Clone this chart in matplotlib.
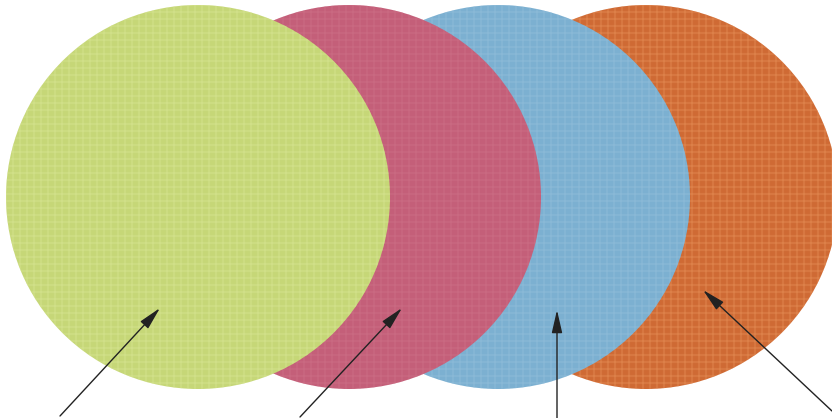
import matplotlib
matplotlib.use("Agg")
import matplotlib.pyplot as plt
from matplotlib.patches import Circle
import numpy as np

# circles, drawn back to front (pixel coords of the image)
names = ["orange", "blue", "red", "green"]
centers_x = [646, 498, 349, 198]
centers_y = [197, 197, 197, 197]
radii = [192, 192, 192, 192]
colors = ["#cf6a34", "#7cb0d1", "#c45f79", "#c6d777"]
weave = ["#e8915a", "#94c0dc", "#cf7389", "#d9e696"]

# arrows: tail -> tip
arrow_tail = [(60, 416), (300, 417), (557, 418), (832, 411)]
arrow_tip = [(160, 308), (402, 308), (557, 310), (703, 290)]

fig = plt.figure(figsize=(8.32, 4.18), dpi=100)
ax = fig.add_axes([0, 0, 1, 1])
ax.set_xlim(0, 832)
ax.set_ylim(418, 0)
ax.axis("off")

for i in range(len(names)):
    c = Circle((centers_x[i], centers_y[i]), radii[i], facecolor=colors[i],
               edgecolor="none", zorder=i * 2)
    ax.add_patch(c)
    # a light woven look, clipped to the circle
    xs = np.arange(centers_x[i] - radii[i], centers_x[i] + radii[i], 7)
    ys = np.arange(centers_y[i] - radii[i], centers_y[i] + radii[i], 7)
    vl = ax.vlines(xs, centers_y[i] - radii[i], centers_y[i] + radii[i],
                   colors=weave[i], linewidth=1.6, alpha=0.35, zorder=i * 2 + 1)
    hl = ax.hlines(ys, centers_x[i] - radii[i], centers_x[i] + radii[i],
                   colors=weave[i], linewidth=1.6, alpha=0.35, zorder=i * 2 + 1)
    vl.set_clip_path(c)
    hl.set_clip_path(c)

for tail, tip in zip(arrow_tail, arrow_tip):
    ax.annotate("", xy=tip, xytext=tail,
                arrowprops=dict(arrowstyle="-|>,head_length=1.4,head_width=0.32",
                                color="#222222", lw=1.0, shrinkA=0, shrinkB=0),
                zorder=20)

fig.savefig("out.png", dpi=100)
